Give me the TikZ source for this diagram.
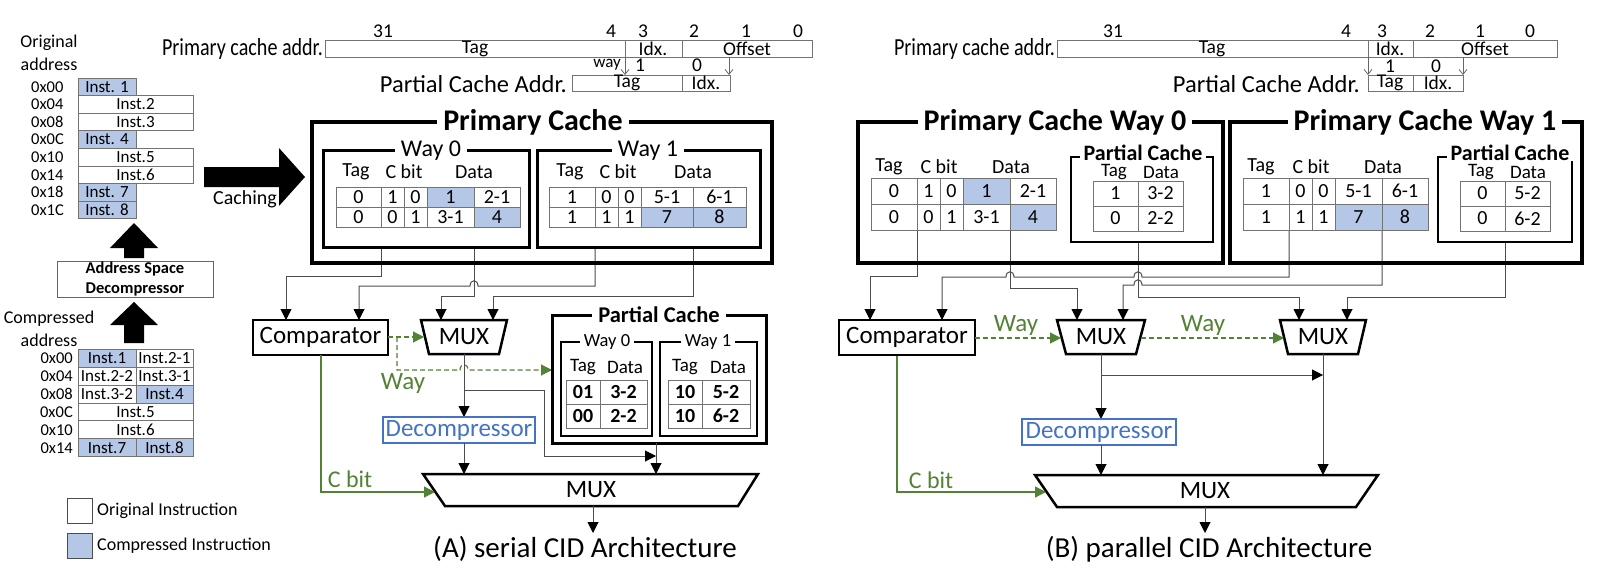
\documentclass[tikz,border=0pt]{standalone}
\usepackage{fontspec}
\setmainfont{Carlito}
\usetikzlibrary{arrows.meta}
\definecolor{cblue}{HTML}{B4C7E7}
\definecolor{dblue}{HTML}{4472C4}
\definecolor{cgreen}{HTML}{548235}
\newcommand\myfs[2]{\fontsize{#1}{#2}\selectfont}
\newcommand\fInst{\myfs{17}{19}}
\newcommand\fTab{\myfs{20}{22}}
\newcommand\fTabB{\myfs{20}{22}\bfseries}
\newcommand\fAd{\myfs{19.5}{21}}
\newcommand\fBig{\myfs{25}{27}}
\newcommand\tcell[7]{%
  \draw[cellb,fill=#5] (#1,#2) rectangle (#3,#4);
  \node[inner sep=0pt,font=#6] at ({(#1+#3)/2},{(#2+#4)/2}) {#7};}
\begin{document}
\begin{tikzpicture}[x=1pt,y=-1pt,
  cellb/.style={draw=black!55, line width=0.9pt},
  wire/.style={draw=black!70, line width=1pt},
  arr/.style={-{Triangle[length=11pt,width=11pt,color=black]}},
  garr/.style={-{Triangle[length=11pt,width=11pt]}, draw=cgreen, fill=none, line width=1.2pt},
  gdash/.style={garr, dash pattern=on 5pt off 3pt},
  thinarr/.style={-{Straight Barb[length=5pt,width=8pt]}, draw=black!60, line width=0.8pt},
  ttl/.style={fill=white, inner xsep=6pt, inner ysep=1pt},
]
\useasboundingbox (0,0) rectangle (1601,575);

%================ LEFT PANEL =================
\node[font=\myfs{18}{23},align=center] (origlbl) at (49,53) {Original\\address};
\tcell{78}{78}{136}{95.6}{cblue}{\fInst}{Inst. 1}
\tcell{78}{95.6}{193}{113.2}{white}{\fInst}{Inst.2}
\tcell{78}{113.2}{193}{130.8}{white}{\fInst}{Inst.3}
\tcell{78}{130.8}{136}{148.4}{cblue}{\fInst}{Inst. 4}
\tcell{78}{148.4}{193}{166}{white}{\fInst}{Inst.5}
\tcell{78}{166}{193}{183.6}{white}{\fInst}{Inst.6}
\tcell{78}{183.6}{136}{201.2}{cblue}{\fInst}{Inst. 7}
\tcell{78}{201.2}{136}{218.8}{cblue}{\fInst}{Inst. 8}
\foreach \a [count=\i from 0] in {0x00,0x04,0x08,0x0C,0x10,0x14,0x18,0x1C}
  \node[anchor=west,font=\myfs{16.5}{18},inner sep=0pt] at (31,{86.8+17.6*\i}) {\a};

\fill (124,258) -- (124,248) -- (110,248) -- (134,223) -- (158,248) -- (144,248) -- (144,258) -- cycle;
\node[draw=black!60,line width=1pt,minimum width=156pt,minimum height=36pt,align=center,
      font=\myfs{16.5}{20}\bfseries,inner sep=0pt] (asd) at (135,279) {Address Space\\Decompressor};
\fill (124,343) -- (124,325) -- (110,325) -- (134,302) -- (158,325) -- (144,325) -- (144,343) -- cycle;

\node[font=\myfs{18}{23},align=center] (complbl) at (49,328.5) {Compressed\\address};
\tcell{78}{349.3}{136}{367.2}{cblue}{\fInst}{Inst.1}
\tcell{136}{349.3}{193}{367.2}{white}{\fInst}{Inst.2-1}
\tcell{78}{367.2}{136}{385.1}{white}{\fInst}{Inst.2-2}
\tcell{136}{367.2}{193}{385.1}{white}{\fInst}{Inst.3-1}
\tcell{78}{385.1}{136}{403}{white}{\fInst}{Inst.3-2}
\tcell{136}{385.1}{193}{403}{cblue}{\fInst}{Inst.4}
\tcell{78}{403}{193}{420.9}{white}{\fInst}{Inst.5}
\tcell{78}{420.9}{193}{438.8}{white}{\fInst}{Inst.6}
\tcell{78}{438.8}{136}{456.7}{cblue}{\fInst}{Inst.7}
\tcell{136}{438.8}{193}{456.7}{cblue}{\fInst}{Inst.8}
\foreach \a [count=\i from 0] in {0x00,0x04,0x08,0x0C,0x10,0x14}
  \node[anchor=east,font=\myfs{16.5}{18},inner sep=0pt] at (73,{358.25+17.9*\i}) {\a};

\draw[draw=black!70,line width=1pt,fill=white] (67,498) rectangle (92,523);
\node[anchor=west,font=\myfs{18}{20},inner sep=0pt] (leg1) at (97,511) {Original Instruction};
\draw[draw=black!70,line width=1pt,fill=cblue] (67,533) rectangle (92,558);
\node[anchor=west,font=\myfs{18}{20},inner sep=0pt] (leg2) at (97,546) {Compressed Instruction};

\fill (204,167) -- (279,167) -- (279,148) -- (305,177) -- (279,206) -- (279,187) -- (204,187) -- cycle;
\node[font=\myfs{20}{22},inner sep=0pt] (cach) at (245,199) {Caching};

%================ A: ADDRESS =================
\node[anchor=east,font=\myfs{24.5}{26},inner sep=0pt] (pclA) at (323,49) {\scalebox{0.82}[1]{Primary cache addr.}};
\draw[cellb] (325,40) rectangle (812,57);
\draw[cellb] (625,40) -- (625,57); \draw[cellb] (682,40) -- (682,57);
\node[font=\fAd,inner sep=0pt] at (475,49) {Tag};
\node[font=\fAd,inner sep=0pt] at (653,49) {Idx.};
\node[font=\fAd,inner sep=0pt] at (747,49) {Offset};
\foreach \x/\lab in {383/31,611/4,643/3,694/2,746/1,798/0}
  \node[font=\fAd,inner sep=0pt] at (\x,31) {\lab};
\node[anchor=east,font=\myfs{24.5}{26},inner sep=0pt] (pplA) at (567,84) {Partial Cache Addr.};
\draw[cellb] (572,75) rectangle (730,91); \draw[cellb] (682,75) -- (682,91);
\node[font=\fAd,inner sep=0pt] at (627,83) {Tag};
\node[font=\fAd,inner sep=0pt] at (706,83) {Idx.};
\node[anchor=east,font=\myfs{17}{19},inner sep=0pt] at (621,65) {way};
\node[font=\fAd,inner sep=0pt] at (640,65) {1};
\node[font=\fAd,inner sep=0pt] at (697,65) {0};
\draw[thinarr] (625,57) -- (625,75);
\draw[thinarr] (729,57) -- (729,75);

%================ A: PRIMARY CACHE =================
\draw[wire,arr] (381,247) -- (381,276) -- (286,276) -- (286,320);
\draw[wire,arr] (595,247) -- (595,286) -- (478,286) .. controls (478,279) and (470,279) .. (470,286) -- (359,286) -- (359,320);
\draw[wire,arr] (474,247) -- (474,296) -- (441,296) -- (441,320);
\draw[wire,arr] (693,247) -- (693,296) -- (493,296) -- (493,320);

\draw[line width=4pt] (312,122) rectangle (772,263);
\node[ttl,font=\myfs{30}{32}\bfseries] (pcA) at (533,122) {Primary Cache};
\draw[line width=3pt] (323,151) rectangle (529,247);
\node[ttl,font=\myfs{24}{26}] (w0A) at (431,151) {Way 0};
\draw[line width=3pt] (537,151) rectangle (760,247);
\node[ttl,font=\myfs{24}{26}] (w1A) at (648,151) {Way 1};

\node[font=\fTab,inner sep=0pt] at (356,172) {Tag};
\node[font=\fTab,inner sep=0pt] at (404,172) {C bit};
\node[font=\fTab,inner sep=0pt] at (474,172) {Data};
\node[font=\fTab,inner sep=0pt] at (570,172) {Tag};
\node[font=\fTab,inner sep=0pt] at (618,172) {C bit};
\node[font=\fTab,inner sep=0pt] at (693,172) {Data};
\tcell{336}{187}{381}{207}{white}{\fTab}{0}
\tcell{381}{187}{404}{207}{white}{\fTab}{1}
\tcell{404}{187}{427}{207}{white}{\fTab}{0}
\tcell{427}{187}{474}{207}{cblue}{\fTab}{1}
\tcell{474}{187}{520}{207}{white}{\fTab}{2-1}
\tcell{336}{207}{381}{227}{white}{\fTab}{0}
\tcell{381}{207}{404}{227}{white}{\fTab}{0}
\tcell{404}{207}{427}{227}{white}{\fTab}{1}
\tcell{427}{207}{474}{227}{white}{\fTab}{3-1}
\tcell{474}{207}{520}{227}{cblue}{\fTab}{4}
\tcell{549}{187}{595}{207}{white}{\fTab}{1}
\tcell{595}{187}{618}{207}{white}{\fTab}{0}
\tcell{618}{187}{641}{207}{white}{\fTab}{0}
\tcell{641}{187}{693}{207}{white}{\fTab}{5-1}
\tcell{693}{187}{746}{207}{white}{\fTab}{6-1}
\tcell{549}{207}{595}{227}{white}{\fTab}{1}
\tcell{595}{207}{618}{227}{white}{\fTab}{1}
\tcell{618}{207}{641}{227}{white}{\fTab}{1}
\tcell{641}{207}{693}{227}{cblue}{\fTab}{7}
\tcell{693}{207}{746}{227}{cblue}{\fTab}{8}

%================ A: LOWER =================
\node[draw,line width=2.5pt,font=\fBig,minimum width=135pt,minimum height=35pt,inner sep=0pt] (cmpA) at (320.5,337.5) {Comparator};
\draw[line width=2.5pt] (421,320) -- (507,320) -- (499,354) -- (429,354) -- cycle;
\node[font=\fBig,inner sep=0pt] (muxA) at (464,337) {MUX};

\draw[gdash] (388,337) -- (424,337);
\draw[gdash] (397,337) -- (397,370) -- (460,370) .. controls (460,363) and (468,363) .. (468,370) -- (552,370);
\node[text=cgreen,font=\fBig,inner sep=0pt] (wayA) at (403,383) {Way};

\draw[wire,arr] (464,354) -- (464,417);
\draw[wire,arr] (464,390) -- (544,390) -- (544,456) -- (656,456);

\draw[line width=3pt] (552,315) rectangle (766,443);
\node[ttl,font=\myfs{22.5}{24}\bfseries] (pcpA) at (659,315) {Partial Cache};
\draw[line width=2pt] (561,342) rectangle (652,436);
\node[ttl,font=\myfs{18.5}{20},inner xsep=4pt] at (607,342) {Way 0};
\draw[line width=2pt] (660,342) rectangle (757,436);
\node[ttl,font=\myfs{18.5}{20},inner xsep=4pt] at (708,342) {Way 1};
\foreach \x/\lab in {583/Tag,625/Data,685/Tag,728/Data}
  \node[font=\myfs{19}{21},inner sep=0pt] at (\x,367) {\lab};
\tcell{566}{380}{600}{404}{white}{\fTabB}{01}
\tcell{600}{380}{647}{404}{white}{\fTabB}{3-2}
\tcell{566}{404}{600}{428}{white}{\fTabB}{00}
\tcell{600}{404}{647}{428}{white}{\fTabB}{2-2}
\tcell{668}{380}{702}{404}{white}{\fTabB}{10}
\tcell{702}{380}{750}{404}{white}{\fTabB}{5-2}
\tcell{668}{404}{702}{428}{white}{\fTabB}{10}
\tcell{702}{404}{750}{428}{white}{\fTabB}{6-2}

\node[draw=dblue,line width=2pt,text=dblue,font=\fBig,minimum width=152pt,minimum height=26pt,inner sep=0pt] (decA) at (459,430) {Decompressor};
\draw[wire,arr] (464,443) -- (464,474);
\draw[wire,arr] (656,443) -- (656,474);

\draw[line width=2.5pt] (423,474) -- (758,474) -- (738,506) -- (445,506) -- cycle;
\node[font=\fBig,inner sep=0pt] (bmuxA) at (591,490) {MUX};
\draw[wire,arr] (593,506) -- (593,533);
\node[font=\myfs{29}{31},inner sep=0pt] (capA) at (585,549) {(A) serial CID Architecture};

\draw[garr] (321,355) -- (321,492) -- (435,492);
\node[text=cgreen,font=\myfs{24}{26},inner sep=0pt] (cbA) at (350,479) {C bit};

%================ B: ADDRESS =================
\node[anchor=east,font=\myfs{24.5}{26},inner sep=0pt] (pclB) at (1055,49) {\scalebox{0.82}[1]{Primary cache addr.}};
\draw[cellb] (1057,40) rectangle (1557,57);
\draw[cellb] (1368,40) -- (1368,57); \draw[cellb] (1413,40) -- (1413,57);
\node[font=\fAd,inner sep=0pt] at (1212,49) {Tag};
\node[font=\fAd,inner sep=0pt] at (1390,49) {Idx.};
\node[font=\fAd,inner sep=0pt] at (1485,49) {Offset};
\foreach \x/\lab in {1113/31,1346/4,1382/3,1430/2,1480/1,1530/0}
  \node[font=\fAd,inner sep=0pt] at (\x,31) {\lab};
\node[anchor=east,font=\myfs{24.5}{26},inner sep=0pt] (pplB) at (1360,84) {Partial Cache Addr.};
\draw[cellb] (1368,75) rectangle (1463,91); \draw[cellb] (1413,75) -- (1413,91);
\node[font=\fAd,inner sep=0pt] at (1390,83) {Tag};
\node[font=\fAd,inner sep=0pt] at (1438,83) {Idx.};
\node[font=\fAd,inner sep=0pt] at (1390,66) {1};
\node[font=\fAd,inner sep=0pt] at (1436,66) {0};
\draw[thinarr] (1368,57) -- (1368,75);
\draw[thinarr] (1463,57) -- (1463,75);

%================ B: PRIMARY CACHE WAYS =================
\draw[wire,arr] (917,230) -- (917,276) -- (870,276) -- (870,320);
\draw[wire,arr] (1289,230) -- (1289,277) -- (1142,277) .. controls (1142,270) and (1134,270) .. (1134,277)
   -- (1014,277) .. controls (1014,270) and (1006,270) .. (1006,277) -- (942,277) -- (942,320);
\draw[wire,arr] (1010,230) -- (1010,288) -- (1077,288) -- (1077,320);
\draw[wire,arr] (1138,242) -- (1138,297) -- (1299,297) -- (1299,320);
\draw[wire,arr] (1382,230) -- (1382,285) -- (1142,285) .. controls (1142,278) and (1134,278) .. (1134,285) -- (1123,285) -- (1123,320);
\draw[wire,arr] (1505,242) -- (1505,297) -- (1347,297) -- (1347,320);

\draw[line width=4pt] (858,122) rectangle (1223,263);
\node[ttl,font=\myfs{30}{32}\bfseries] (pcB0) at (1055,122) {Primary Cache Way 0};
\draw[line width=4pt] (1230,122) rectangle (1582,263);
\node[ttl,font=\myfs{30}{32}\bfseries] (pcB1) at (1425,122) {Primary Cache Way 1};

\foreach \L in {871,1243}{
  \node[font=\fTab,inner sep=0pt] at (\L+18,167) {Tag};
  \node[font=\fTab,inner sep=0pt] at (\L+68,167) {C bit};
  \node[font=\fTab,inner sep=0pt] at (\L+140,167) {Data};
}
\tcell{871}{178}{917}{204}{white}{\fTab}{0}
\tcell{917}{178}{940}{204}{white}{\fTab}{1}
\tcell{940}{178}{963}{204}{white}{\fTab}{0}
\tcell{963}{178}{1010}{204}{cblue}{\fTab}{1}
\tcell{1010}{178}{1056}{204}{white}{\fTab}{2-1}
\tcell{871}{204}{917}{230}{white}{\fTab}{0}
\tcell{917}{204}{940}{230}{white}{\fTab}{0}
\tcell{940}{204}{963}{230}{white}{\fTab}{1}
\tcell{963}{204}{1010}{230}{white}{\fTab}{3-1}
\tcell{1010}{204}{1056}{230}{cblue}{\fTab}{4}
\tcell{1243}{178}{1289}{204}{white}{\fTab}{1}
\tcell{1289}{178}{1312}{204}{white}{\fTab}{0}
\tcell{1312}{178}{1335}{204}{white}{\fTab}{0}
\tcell{1335}{178}{1382}{204}{white}{\fTab}{5-1}
\tcell{1382}{178}{1428}{204}{white}{\fTab}{6-1}
\tcell{1243}{204}{1289}{230}{white}{\fTab}{1}
\tcell{1289}{204}{1312}{230}{white}{\fTab}{1}
\tcell{1312}{204}{1335}{230}{white}{\fTab}{1}
\tcell{1335}{204}{1382}{230}{cblue}{\fTab}{7}
\tcell{1382}{204}{1428}{230}{cblue}{\fTab}{8}

% partial caches B
\draw[line width=1.5pt] (1071,157) rectangle (1213,242);
\node[ttl,font=\myfs{22}{24}\bfseries,inner xsep=4pt,inner ysep=0pt] (ppB0) at (1143,153) {Partial Cache};
\node[font=\myfs{19}{21},inner sep=0pt] at (1114,172) {Tag};
\node[font=\myfs{19}{21},inner sep=0pt] at (1161,172) {Data};
\tcell{1093}{181}{1138}{206}{white}{\fTab}{1}
\tcell{1138}{181}{1183}{206}{white}{\fTab}{3-2}
\tcell{1093}{206}{1138}{231}{white}{\fTab}{0}
\tcell{1138}{206}{1183}{231}{white}{\fTab}{2-2}

\draw[line width=1.5pt] (1438,157) rectangle (1572,242);
\node[ttl,font=\myfs{22}{24}\bfseries,inner xsep=4pt,inner ysep=0pt] (ppB1) at (1510,153) {Partial Cache};
\node[font=\myfs{19}{21},inner sep=0pt] at (1481,172) {Tag};
\node[font=\myfs{19}{21},inner sep=0pt] at (1528,172) {Data};
\tcell{1460}{181}{1505}{206}{white}{\fTab}{0}
\tcell{1505}{181}{1550}{206}{white}{\fTab}{5-2}
\tcell{1460}{206}{1505}{231}{white}{\fTab}{0}
\tcell{1505}{206}{1550}{231}{white}{\fTab}{6-2}

%================ B: LOWER =================
\node[draw,line width=2.5pt,font=\fBig,minimum width=136pt,minimum height=35pt,inner sep=0pt] (cmpB) at (907,337.5) {Comparator};
\draw[line width=2.5pt] (1057,320) -- (1145,320) -- (1136,354) -- (1066,354) -- cycle;
\node[font=\fBig,inner sep=0pt] (mux1B) at (1101,337) {MUX};
\draw[line width=2.5pt] (1280,320) -- (1366,320) -- (1358,354) -- (1288,354) -- cycle;
\node[font=\fBig,inner sep=0pt] (mux2B) at (1323,337) {MUX};

\draw[gdash] (975,338) -- (1061,338);
\node[text=cgreen,font=\fBig,inner sep=0pt] (way1B) at (1016,325) {Way};
\draw[gdash] (1141,338) -- (1284,338);
\node[text=cgreen,font=\fBig,inner sep=0pt] (way2B) at (1203,325) {Way};

\draw[wire,arr] (1101,354) -- (1101,419);
\draw[wire,arr] (1101,375) -- (1323,375);
\draw[wire,arr] (1323,354) -- (1323,475);

\node[draw=dblue,line width=2pt,text=dblue,font=\fBig,minimum width=154pt,minimum height=26pt,inner sep=0pt] (decB) at (1099,432) {Decompressor};
\draw[wire,arr] (1101,445) -- (1101,475);

\draw[line width=2.5pt] (1035,475) -- (1378,475) -- (1356,507) -- (1057,507) -- cycle;
\node[font=\fBig,inner sep=0pt] (bmuxB) at (1205,491) {MUX};
\draw[wire,arr] (1205,507) -- (1205,533);
\node[font=\myfs{29}{31},inner sep=0pt] (capB) at (1209,549) {(B) parallel CID Architecture};

\draw[garr] (897,356) -- (897,492) -- (1046,492);
\node[text=cgreen,font=\myfs{24}{26},inner sep=0pt] (cbB) at (931,480) {C bit};

\end{tikzpicture}
\end{document}
